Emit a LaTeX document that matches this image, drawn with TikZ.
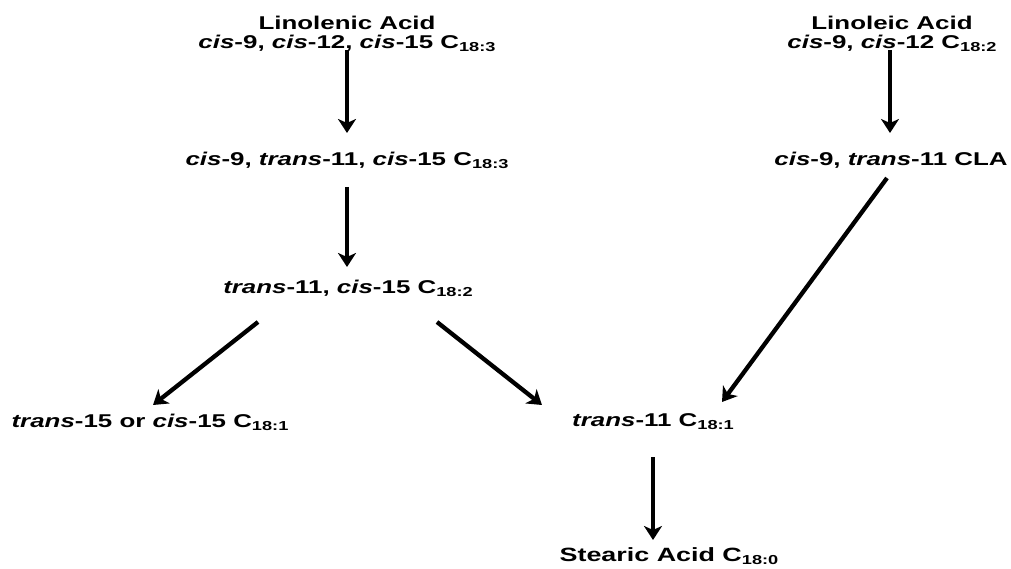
\documentclass[tikz,border=0pt]{standalone}
\usepackage{fontspec}
\setmainfont[FakeStretch=1.4]{Liberation Sans}
\usetikzlibrary{arrows.meta,calc}
\newcommand{\sbs}[1]{\raisebox{-0.3ex}{\fontsize{13}{13}\selectfont #1}}
\begin{document}
\begin{tikzpicture}[x=1pt,y=-1pt,
  lbl/.style={font=\fontsize{18.5}{19}\selectfont\bfseries, align=center, inner sep=0pt},
  arr/.style={line width=4.3pt, -{Stealth[length=14pt,width=18pt,inset=4pt]}}]
\useasboundingbox (0,0) rectangle (1011,569);
\node[lbl] (lnn) at (347,34) {Linolenic Acid\\\textit{cis}-9, \textit{cis}-12, \textit{cis}-15 C\sbs{18:3}};
\node[lbl] (ln) at (892,34) {Linoleic Acid\\\textit{cis}-9, \textit{cis}-12 C\sbs{18:2}};
\node[lbl] (n2) at (347,160) {\textit{cis}-9, \textit{trans}-11, \textit{cis}-15 C\sbs{18:3}};
\node[lbl] (cla) at (891,160) {\textit{cis}-9, \textit{trans}-11 CLA};
\node[lbl] (n3) at (348,288) {\textit{trans}-11, \textit{cis}-15 C\sbs{18:2}};
\node[lbl] (t15) at (150,422) {\textit{trans}-15 or \textit{cis}-15 C\sbs{18:1}};
\node[lbl] (t11) at (653,422) {\textit{trans}-11 C\sbs{18:1}};
\node[lbl, font=\fontsize{19.2}{20}\selectfont\bfseries] (st) at (669,556) {Stearic Acid C\sbs{18:0}};
\draw[arr] ($(lnn)+(0,16)$) -- ($(n2)+(0,-27)$);
\draw[arr] ($(ln)+(-2,16)$) -- ($(cla)+(-1,-27)$);
\draw[arr] ($(n2)+(0,27)$) -- ($(n3)+(-1,-21)$);
\draw[arr] ($(n3)+(-90,34)$) -- ($(t15)+(3,-17)$);
\draw[arr] ($(n3)+(89,34)$) -- ($(t11)+(-111,-17)$);
\draw[arr] ($(cla)+(-4,18)$) -- ($(t11)+(69,-20)$);
\draw[arr] ($(t11)+(0,35)$) -- ($(st)+(-16,-16)$);
\end{tikzpicture}
\end{document}
